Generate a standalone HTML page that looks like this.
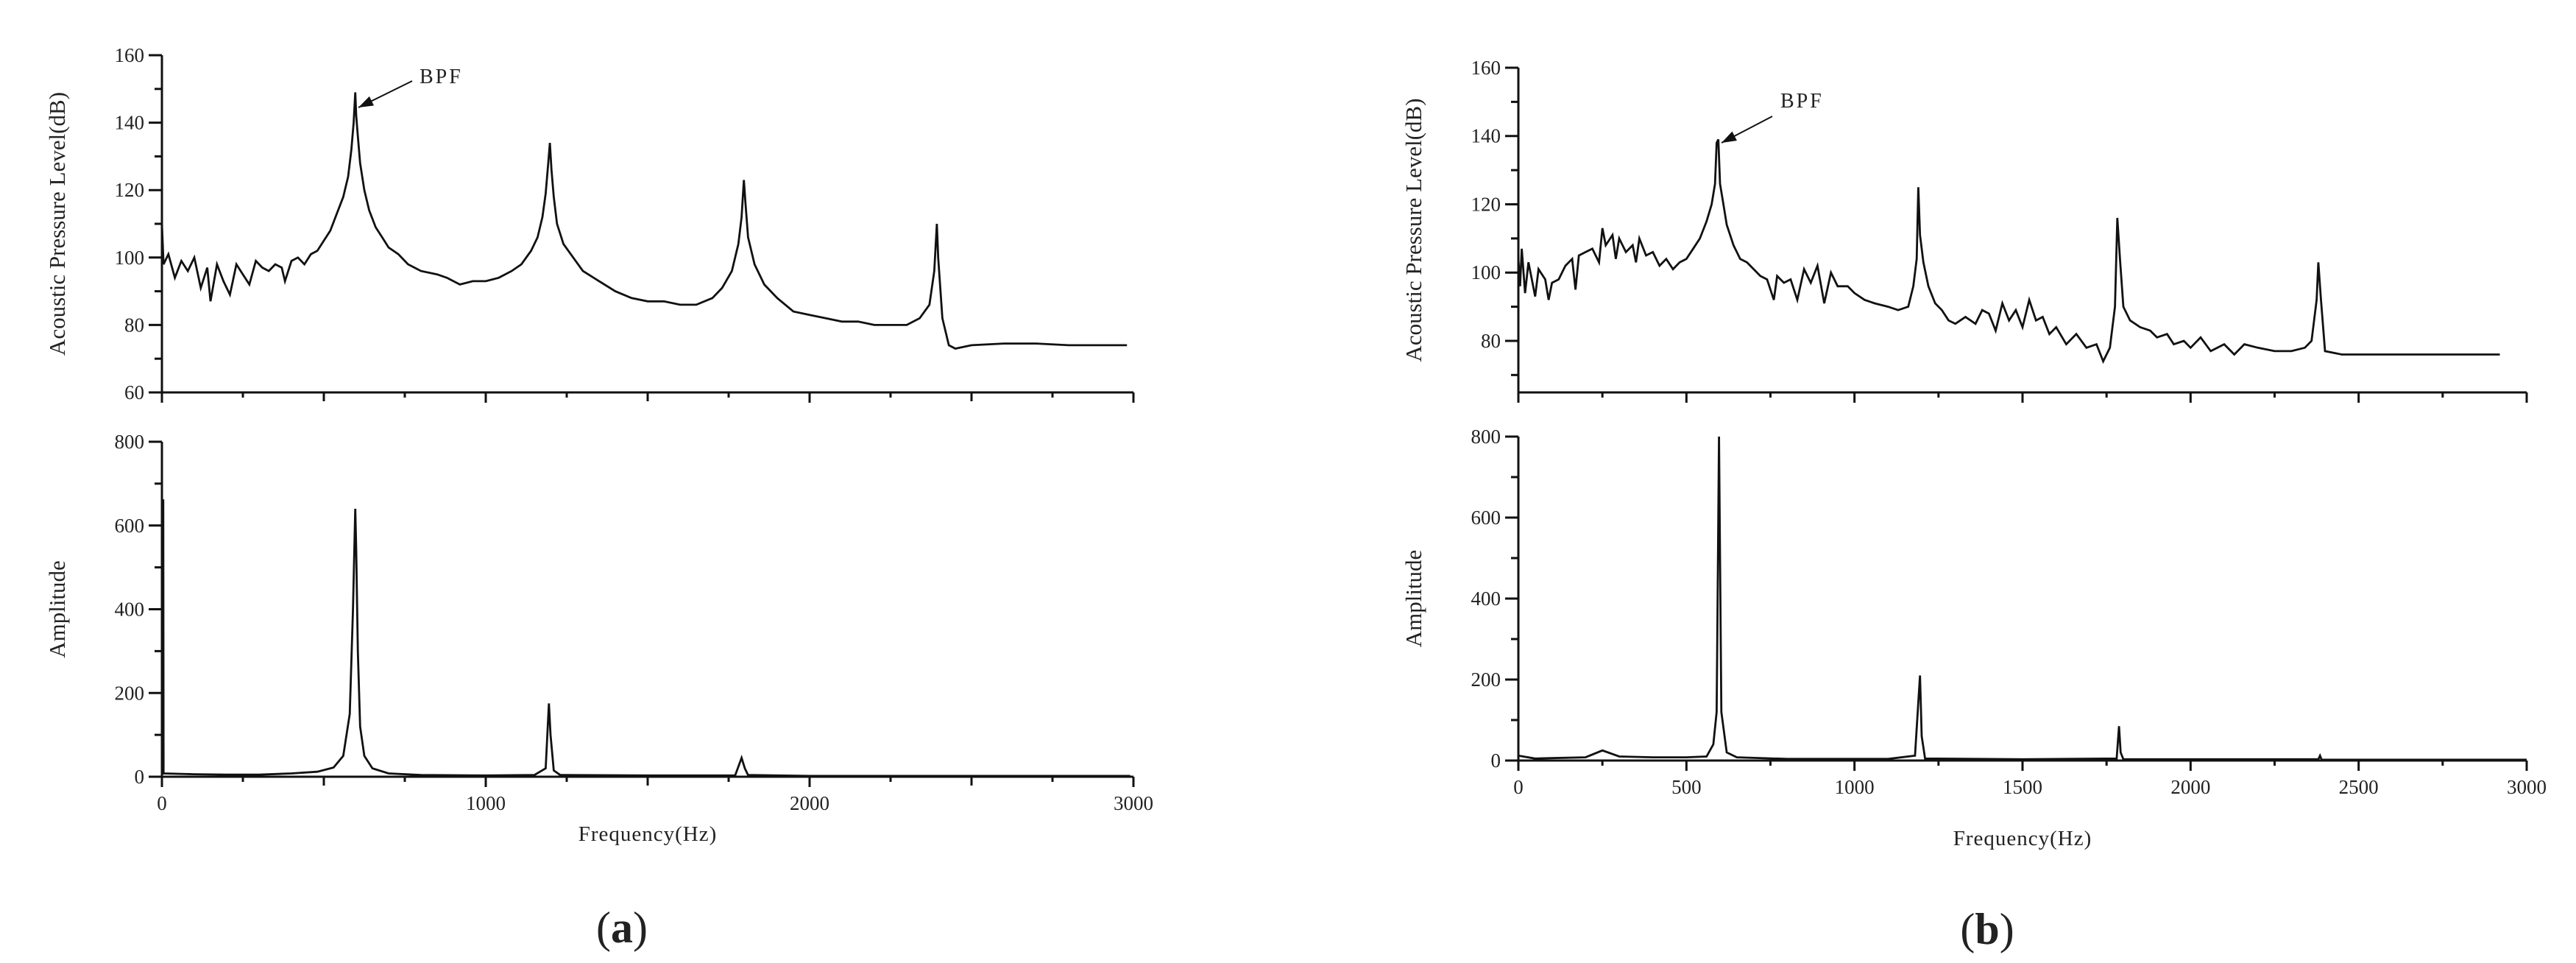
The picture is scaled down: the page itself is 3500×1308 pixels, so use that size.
<!DOCTYPE html>
<html><head><meta charset="utf-8"><style>
html,body{margin:0;padding:0;background:#fff}
svg{display:block}
text{font-family:"Liberation Serif",serif;fill:#222}
</style></head><body>
<svg id="chart" width="3500" height="1308" viewBox="0 0 3500 1308" xmlns="http://www.w3.org/2000/svg"></svg>
<script>
// ---- data: panel (a) ----
const aTopFreq=[0,5,20,40,60,80,100,120,140,150,170,190,210,230,250,270,290,310,330,350,370,380,400,420,440,460,480,500,520,540,560,575,585,592,597,600,605,612,625,640,660,680,700,730,760,800,850,880,920,960,1000,1040,1080,1110,1140,1160,1175,1185,1193,1198,1203,1210,1220,1240,1270,1300,1350,1400,1450,1500,1550,1600,1650,1700,1730,1760,1780,1790,1797,1802,1810,1830,1860,1900,1950,2000,2050,2100,2150,2200,2250,2300,2340,2370,2385,2393,2397,2410,2430,2450,2500,2600,2700,2800,2900,2980];
const aTopDb=[110,98,101,94,99,96,100,91,97,87,98,93,89,98,95,92,99,97,96,98,97,93,99,100,98,101,102,105,108,113,118,124,132,140,149,142,136,128,120,114,109,106,103,101,98,96,95,94,92,93,93,94,96,98,102,106,112,119,128,134,126,118,110,104,100,96,93,90,88,87,87,86,86,88,91,96,104,112,123,116,106,98,92,88,84,83,82,81,81,80,80,80,82,86,96,110,100,82,74,73,74,74.5,74.5,74,74,74];
const aBotFreq=[0,2,4,5,100,200,300,400,480,530,560,580,590,597,600,605,612,625,650,700,800,1000,1150,1185,1195,1200,1210,1230,1500,1770,1790,1800,1810,2000,2990];
const aBotAmp=[0,660,660,8,6,5,5,8,12,22,50,150,400,640,540,300,120,50,20,8,4,3,4,20,175,100,15,4,3,3,45,20,4,2,2];
// ---- data: panel (b) ----
const bTopFreq=[0,5,10,20,30,40,50,60,80,90,100,120,140,160,170,180,200,220,240,250,260,280,290,300,320,340,350,360,380,400,420,440,460,480,500,520,540,560,575,585,590,595,600,610,620,640,660,680,700,720,740,760,770,790,810,830,850,870,890,910,930,950,980,1000,1030,1060,1100,1130,1160,1175,1185,1190,1195,1205,1220,1240,1260,1280,1300,1330,1360,1380,1400,1420,1440,1460,1480,1500,1520,1540,1560,1580,1600,1630,1660,1690,1720,1740,1760,1775,1782,1790,1800,1820,1850,1880,1900,1930,1950,1980,2000,2030,2060,2100,2130,2160,2200,2250,2300,2340,2360,2375,2380,2388,2400,2450,2600,2800,2920];
const bTopDb=[104,96,107,94,103,98,93,101,98,92,97,98,102,104,95,105,106,107,103,113,108,111,104,110,106,108,103,110,105,106,102,104,101,103,104,107,110,115,120,126,138,139,126,120,114,108,104,103,101,99,98,92,99,97,98,92,101,97,102,91,100,96,96,94,92,91,90,89,90,96,104,125,111,103,96,91,89,86,85,87,85,89,88,83,91,86,89,84,92,86,87,82,84,79,82,78,79,74,78,90,116,104,90,86,84,83,81,82,79,80,78,81,77,79,76,79,78,77,77,78,80,92,103,92,77,76,76,76,76];
const bBotFreq=[0,50,100,200,250,300,400,500,560,580,590,594,597,600,604,620,650,800,1100,1180,1192,1195,1200,1210,1500,1780,1787,1792,1800,2380,2385,2390,3000];
const bBotAmp=[12,5,6,8,25,10,8,8,10,40,120,520,800,500,120,20,8,4,4,12,170,210,60,5,3,5,85,20,3,3,12,2,2];
// ticks
const aXTicks=[0,1000,2000,3000];
const bXTicks=[0,500,1000,1500,2000,2500,3000];
const aTopYTicks=[60,80,100,120,140,160];
const bTopYTicks=[80,100,120,140,160];
const ampYTicks=[0,200,400,600,800];

const svg=document.getElementById('chart');
const NS='http://www.w3.org/2000/svg';
function mk(tag,attrs,parent){const e=document.createElementNS(NS,tag);for(const k in attrs)e.setAttribute(k,attrs[k]);(parent||svg).appendChild(e);return e;}

function panel(o){
  const g=mk('g',{});
  
  
  const sx=v=>o.x0+(v-0)/3000*(o.x1-o.x0);
  const sy=v=>o.yb-(v-o.ymin)/(o.ymax-o.ymin)*(o.yb-o.yt);
  const ax=mk('path',{d:`M${o.x0},${sy(o.ymax)} L${o.x0},${o.yb} L${o.x1},${o.yb}`,fill:'none',stroke:'#111','stroke-width':3},g);
  
  
  for(let v=o.ymax;v>=o.ymin-0.01;v-=o.yMinor){
    const major=Math.abs(((v-o.ymin0)/o.yMajor)-Math.round((v-o.ymin0)/o.yMajor))<1e-6;
    mk('line',{x1:o.x0-(major?18:10),x2:o.x0,y1:sy(v),y2:sy(v),stroke:'#111','stroke-width':3},g);
  }
  o.yTicks.forEach(v=>{
    const t=mk('text',{x:o.x0-24,y:sy(v)+9,'text-anchor':'end','font-size':27},g);
    t.textContent=v;
    
    
  });
  for(let v=0;v<=3000;v+=250){
    const len=(v%o.xMajor===0)?14:(v%500===0?12:7);
    mk('line',{x1:sx(v),x2:sx(v),y1:o.yb,y2:o.yb+len,stroke:'#111','stroke-width':3},g);
  }
  if(o.xTicks){
    o.xTicks.forEach(v=>{
      const t=mk('text',{x:sx(v),y:o.yb+45,'text-anchor':'middle','font-size':27},g);
      t.textContent=v;
      
      
    });
  }
  const pts=o.fx.map((f,i)=>sx(f).toFixed(1)+','+sy(Math.max(o.ymin,o.fy[i])).toFixed(1)).join(' ');
  const pl=mk('polyline',{points:pts,fill:'none',stroke:'#111','stroke-width':2.8,'stroke-linejoin':'miter'},g);
  
  
  const yt=mk('text',{x:0,y:0,'text-anchor':'middle','font-size':31,transform:`translate(${o.x0-132},${(sy(o.ymax)+o.yb)/2}) rotate(-90)`},g);
  yt.textContent=o.ytitle;
  
  
  return {sx,sy};
}

panel({name:'panel-a-spl',x0:220,x1:1540,yt:75,yb:533,ymin:60,ymax:160,ymin0:60,yMajor:20,yMinor:10,yTicks:aTopYTicks,xMajor:1000,fx:aTopFreq,fy:aTopDb,series:'spl-line-a',ytitle:'Acoustic Pressure Level(dB)'});
panel({name:'panel-a-amplitude',x0:220,x1:1540,yt:600,yb:1055,ymin:0,ymax:800,ymin0:0,yMajor:200,yMinor:100,yTicks:ampYTicks,xMajor:1000,xTicks:aXTicks,fx:aBotFreq,fy:aBotAmp,series:'amplitude-line-a',ytitle:'Amplitude'});
panel({name:'panel-b-spl',x0:2063,x1:3433,yt:92,yb:533,ymin:64.9,ymax:160,ymin0:60,yMajor:20,yMinor:10,yTicks:bTopYTicks,xMajor:500,fx:bTopFreq,fy:bTopDb,series:'spl-line-b',ytitle:'Acoustic Pressure Level(dB)'});
panel({name:'panel-b-amplitude',x0:2063,x1:3433,yt:593,yb:1033,ymin:0,ymax:800,ymin0:0,yMajor:200,yMinor:100,yTicks:ampYTicks,xMajor:500,xTicks:bXTicks,fx:bBotFreq,fy:bBotAmp,series:'amplitude-line-b',ytitle:'Amplitude'});

function bpf(tx,ty,x1,y1,x2,y2,name){
  const t=mk('text',{x:tx,y:ty,'font-size':28,'letter-spacing':3});
  t.textContent='BPF';
  
  
  const l=mk('line',{x1:x1,y1:y1,x2:x2,y2:y2,stroke:'#111','stroke-width':2});
  
  
  const a=Math.atan2(y2-y1,x2-x1),L=20,W=7;
  const p=[[x2,y2],[x2-L*Math.cos(a)+W*Math.sin(a),y2-L*Math.sin(a)-W*Math.cos(a)],[x2-L*Math.cos(a)-W*Math.sin(a),y2-L*Math.sin(a)+W*Math.cos(a)]];
  const h=mk('polygon',{points:p.map(q=>q.join(',')).join(' '),fill:'#111'});
  
  
}
bpf(570,113,560,110,487,146,'bpf-a');
bpf(2419,146,2408,158,2339,194,'bpf-b');

[[880,1142,'Frequency(Hz)','x-axis-title-a'],[2748,1148,'Frequency(Hz)','x-axis-title-b']].forEach(d=>{
  const t=mk('text',{x:d[0],y:d[1],'text-anchor':'middle','font-size':29,'letter-spacing':1});
  t.textContent=d[2];
  
  
});
[[845,1280,'a','caption-a'],[2700,1282,'b','caption-b']].forEach(d=>{
  const t=mk('text',{x:d[0],y:d[1],'text-anchor':'middle','font-size':60});
  
  
  t.innerHTML='(<tspan font-weight="bold">'+d[2]+'</tspan>)';
});
</script>
</body></html>
